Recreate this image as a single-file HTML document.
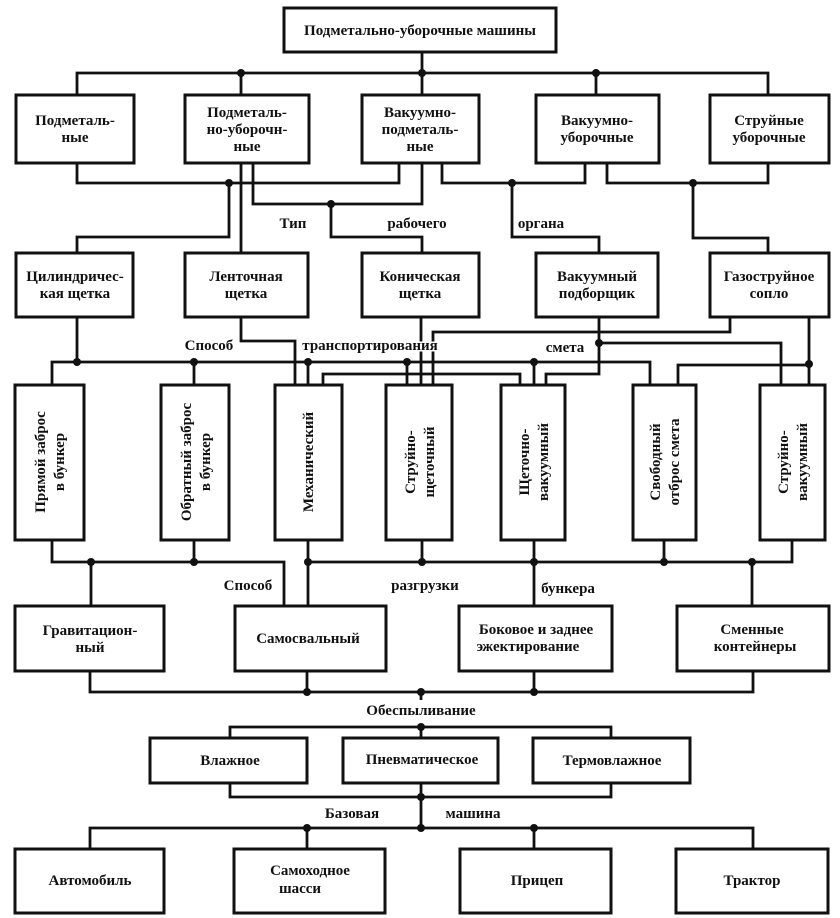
<!DOCTYPE html>
<html><head><meta charset="utf-8"><style>
html,body{margin:0;padding:0;background:#fff;}
svg{display:block;}
text{font-family:"Liberation Serif",serif;font-weight:bold;font-size:15px;fill:#111;text-anchor:middle;}
rect{fill:#fff;stroke:#111;stroke-width:3;}
polyline,line{fill:none;stroke:#111;stroke-width:2.8;}
circle{fill:#111;}
</style></head><body>
<svg width="840" height="918" viewBox="0 0 840 918" xmlns="http://www.w3.org/2000/svg">
<polyline points="422,53 422,73"/>
<polyline points="77,95 77,73 768,73 768,95"/>
<line x1="241" y1="73" x2="241" y2="95"/><line x1="422" y1="73" x2="422" y2="95"/><line x1="596" y1="73" x2="596" y2="95"/>
<circle cx="241" cy="73" r="4"/><circle cx="422" cy="73" r="4"/><circle cx="596" cy="73" r="4"/>

<polyline points="77,163 77,183 399,183 399,163"/>
<polyline points="229,183 229,237 77,237 77,253"/><circle cx="229" cy="183" r="4"/>
<line x1="241" y1="163" x2="241" y2="253"/>
<polyline points="253,163 253,204 422,204 422,163"/>
<polyline points="331,204 331,237 422,237 422,253"/><circle cx="331" cy="204" r="4"/>
<polyline points="442,163 442,183 585,183 585,163"/>
<polyline points="512,183 512,237 599,237 599,253"/><circle cx="512" cy="183" r="4"/>
<polyline points="607,163 607,183 768,183 768,163"/>
<polyline points="693,183 693,238 768,238 768,253"/><circle cx="693" cy="183" r="4"/>

<line x1="77" y1="317" x2="77" y2="362"/>
<polyline points="52,385 52,362 650,362 650,385"/>
<line x1="194" y1="362" x2="194" y2="385"/><line x1="308" y1="362" x2="308" y2="385"/><line x1="407" y1="362" x2="407" y2="385"/><line x1="534" y1="362" x2="534" y2="385"/>
<circle cx="77" cy="362" r="4"/><circle cx="194" cy="362" r="4"/><circle cx="308" cy="362" r="4"/><circle cx="407" cy="362" r="4"/><circle cx="534" cy="362" r="4"/>
<polyline points="241,317 241,341 295,341 295,385"/>
<polyline points="323,385 323,374 520,374 520,385"/>
<line x1="421" y1="317" x2="421" y2="385"/>
<polyline points="433,385 433,332 730,332 730,317"/>
<polyline points="599,317 599,374 546,374 546,385"/>
<polyline points="599,343 781,343 781,385"/><circle cx="599" cy="343" r="4"/>
<line x1="809" y1="317" x2="809" y2="385"/>
<polyline points="809,365 678,365 678,385"/><circle cx="809" cy="364" r="4"/>

<polyline points="52,540 52,562 284,562 284,606"/>
<line x1="91" y1="562" x2="91" y2="606"/><line x1="194" y1="540" x2="194" y2="562"/>
<circle cx="91" cy="562" r="4"/><circle cx="194" cy="562" r="4"/>
<polyline points="308,540 308,606"/>
<polyline points="308,562 792,562 792,540"/>
<line x1="422" y1="540" x2="422" y2="562"/><line x1="534" y1="540" x2="534" y2="606"/><line x1="664" y1="540" x2="664" y2="562"/><line x1="752" y1="562" x2="752" y2="606"/>
<circle cx="308" cy="562" r="4"/><circle cx="422" cy="562" r="4"/><circle cx="534" cy="562" r="4"/><circle cx="664" cy="562" r="4"/><circle cx="752" cy="562" r="4"/>

<polyline points="90,671 90,692 753,692 753,671"/>
<line x1="307" y1="671" x2="307" y2="692"/><line x1="534" y1="671" x2="534" y2="692"/><line x1="421" y1="692" x2="421" y2="700"/>
<circle cx="307" cy="692" r="4"/><circle cx="421" cy="692" r="4"/><circle cx="534" cy="692" r="4"/>
<polyline points="230,738 230,727 611,727 611,738"/><line x1="421" y1="727" x2="421" y2="738"/><circle cx="421" cy="727" r="4"/>
<polyline points="230,783 230,797 611,797 611,783"/><line x1="421" y1="783" x2="421" y2="828"/><circle cx="421" cy="797" r="4"/>
<polyline points="90,849 90,828 753,828 753,849"/>
<line x1="307" y1="828" x2="307" y2="849"/><line x1="534" y1="828" x2="534" y2="849"/>
<circle cx="307" cy="828" r="4"/><circle cx="421" cy="828" r="4"/><circle cx="534" cy="828" r="4"/>

<rect x="284" y="8" width="272" height="44"/>
<text x="420" y="35">Подметально-уборочные машины</text>

<rect x="16" y="95" width="118" height="68"/>
<text x="75" y="125">Подметаль-</text><text x="75" y="142">ные</text>
<rect x="185" y="95" width="124" height="68"/>
<text x="247" y="117">Подметаль-</text><text x="247" y="134">но-уборочн-</text><text x="247" y="151">ные</text>
<rect x="362" y="95" width="117" height="68"/>
<text x="420" y="117">Вакуумно-</text><text x="420" y="134">подметаль-</text><text x="420" y="151">ные</text>
<rect x="536" y="95" width="123" height="68"/>
<text x="597" y="125">Вакуумно-</text><text x="597" y="142">уборочные</text>
<rect x="710" y="95" width="119" height="68"/>
<text x="769" y="125">Струйные</text><text x="769" y="142">уборочные</text>

<rect x="16" y="253" width="117" height="64"/>
<text x="75" y="281">Цилиндричес-</text><text x="75" y="298">кая щетка</text>
<rect x="185" y="253" width="123" height="64"/>
<text x="246" y="281">Ленточная</text><text x="246" y="298">щетка</text>
<rect x="362" y="253" width="117" height="64"/>
<text x="420" y="281">Коническая</text><text x="420" y="298">щетка</text>
<rect x="536" y="253" width="122" height="64"/>
<text x="597" y="281">Вакуумный</text><text x="597" y="298">подборщик</text>
<rect x="710" y="253" width="119" height="64"/>
<text x="769" y="281">Газоструйное</text><text x="769" y="298">сопло</text>

<text x="293" y="228">Тип</text><text x="417" y="228">рабочего</text><text x="541" y="228">органа</text>
<text x="209" y="350">Способ</text>
<text x="370" y="350" style="paint-order:stroke;stroke:#fff;stroke-width:3px">транспортирования</text>
<text x="565" y="352">смета</text>

<rect x="15" y="385" width="69" height="155"/>
<text transform="translate(49,462) rotate(-90)"><tspan x="0" y="-4">Прямой заброс</tspan><tspan x="0" y="15">в бункер</tspan></text>
<rect x="161" y="385" width="68" height="155"/>
<text transform="translate(195,462) rotate(-90)"><tspan x="0" y="-4">Обратный заброс</tspan><tspan x="0" y="15">в бункер</tspan></text>
<rect x="275" y="385" width="67" height="155"/>
<text transform="translate(308,462) rotate(-90)"><tspan x="0" y="5">Механический</tspan></text>
<rect x="386" y="385" width="66" height="155"/>
<text transform="translate(419,462) rotate(-90)"><tspan x="0" y="-4">Струйно-</tspan><tspan x="0" y="15">щеточный</tspan></text>
<rect x="501" y="385" width="64" height="155"/>
<text transform="translate(533,462) rotate(-90)"><tspan x="0" y="-4">Щеточно-</tspan><tspan x="0" y="15">вакуумный</tspan></text>
<rect x="633" y="385" width="63" height="155"/>
<text transform="translate(664,462) rotate(-90)"><tspan x="0" y="-4">Свободный</tspan><tspan x="0" y="15">отброс смета</tspan></text>
<rect x="760" y="385" width="65" height="155"/>
<text transform="translate(792,462) rotate(-90)"><tspan x="0" y="-4">Струйно-</tspan><tspan x="0" y="15">вакуумный</tspan></text>

<text x="248" y="590">Способ</text><text x="425" y="590">разгрузки</text><text x="568" y="593">бункера</text>

<rect x="15" y="606" width="149" height="65"/>
<text x="90" y="635">Гравитацион-</text><text x="90" y="652">ный</text>
<rect x="235" y="606" width="151" height="65"/>
<text x="308" y="643">Самосвальный</text>
<rect x="459" y="606" width="153" height="65"/>
<text x="536" y="634">Боковое и заднее</text><text x="528" y="651">эжектирование</text>
<rect x="677" y="606" width="152" height="65"/>
<text x="752" y="634">Сменные</text><text x="755" y="651">контейнеры</text>

<text x="421" y="715">Обеспыливание</text>
<rect x="150" y="738" width="157" height="45"/><text x="230" y="765">Влажное</text>
<rect x="343" y="738" width="155" height="45"/><text x="422" y="764">Пневматическое</text>
<rect x="533" y="738" width="157" height="45"/><text x="612" y="765">Термовлажное</text>

<text x="352" y="818">Базовая</text><text x="473" y="818">машина</text>

<rect x="15" y="849" width="149" height="64"/><text x="90" y="885">Автомобиль</text>
<rect x="234" y="849" width="151" height="64"/><text x="310" y="875">Самоходное</text><text x="300" y="893">шасси</text>
<rect x="460" y="849" width="151" height="64"/><text x="537" y="885">Прицеп</text>
<rect x="676" y="849" width="152" height="64"/><text x="752" y="885">Трактор</text>
</svg>
</body></html>
